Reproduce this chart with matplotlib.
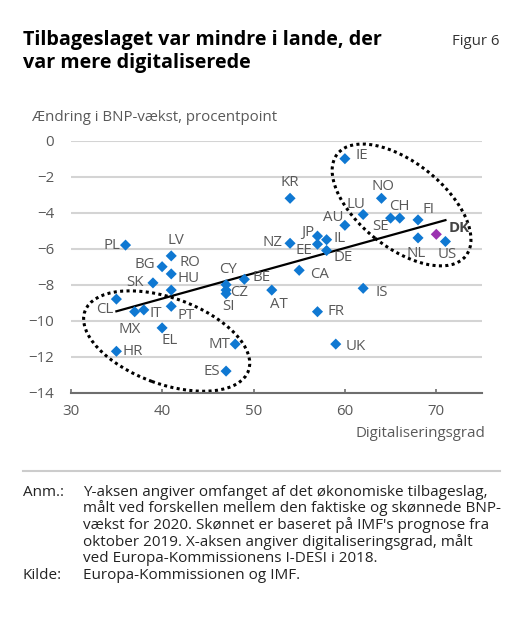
import numpy as np
import matplotlib
matplotlib.use("Agg")
import matplotlib.pyplot as plt
from matplotlib.patches import Ellipse
from matplotlib.transforms import Affine2D, ScaledTranslation

plt.rcParams['font.family'] = ['Open Sans', 'DejaVu Sans']

# Data: country, digitalisation degree (I-DESI 2018), change in GDP growth
countries = ["PL", "LV", "BG", "RO", "HU", "SK", "CY", "CZ", "SI", "BE", "AT",
             "CL", "MX", "IT", "PT", "EL", "HR", "MT", "ES",
             "KR", "NZ", "IE", "NO", "LU", "SE", "CH", "FI", "AU", "JP", "IL",
             "EE", "DE", "CA", "IS", "FR", "UK", "NL", "US", "DK"]
digital = [36, 41, 40, 41, 41, 39, 47, 47, 47, 49, 52,
           35, 37, 38, 41, 40, 35, 48, 47,
           54, 54, 60, 64, 62, 65, 66, 68, 60, 57, 58,
           57, 58, 55, 62, 57, 59, 68, 71, 70]
gdp_change = [-5.8, -6.4, -7.0, -7.4, -8.3, -7.9, -8.0, -8.3, -8.5, -7.7, -8.3,
              -8.8, -9.5, -9.4, -9.2, -10.4, -11.7, -11.3, -12.8,
              -3.2, -5.7, -1.0, -3.2, -4.1, -4.3, -4.3, -4.4, -4.7, -5.3, -5.5,
              -5.75, -6.1, -7.2, -8.2, -9.5, -11.3, -5.4, -5.6, -5.2]
highlight = "DK"

# label placement: offset in pixels (dx right, dy down) and alignment
label_pos = {
    "PL": (-5, 0, "right"), "LV": (5, -15, "center"), "BG": (-7, -2, "right"),
    "RO": (8, -11, "left"), "HU": (6, -12, "left"), "SK": (-9, 0, "right"),
    "CY": (2, -15, "center"), "CZ": (4, 2, "left"), "SI": (2, 13, "center"),
    "BE": (8, -2, "left"), "AT": (7, 14, "center"), "CL": (-3, 10, "right"),
    "MX": (-5, 18, "center"), "IT": (6, 4, "left"), "PT": (6, 9, "left"),
    "EL": (8, 13, "center"), "HR": (6, 0, "left"), "MT": (-5, 0, "right"),
    "ES": (-6, 0, "right"), "KR": (0, -16, "center"), "NZ": (-8, -1, "right"),
    "IE": (11, -3, "left"), "NO": (1, -12, "center"), "LU": (-7, -10, "center"),
    "SE": (-10, 8, "center"), "CH": (0, -12, "center"), "FI": (10, -10, "center"),
    "AU": (-12, -8, "center"), "JP": (-3, -4, "right"), "IL": (7, -1, "left"),
    "EE": (-5, 6, "right"), "DE": (7, 7, "left"), "CA": (11, 4, "left"),
    "IS": (12, 4, "left"), "FR": (10, 0, "left"), "UK": (10, 2, "left"),
    "NL": (-2, 16, "center"), "US": (2, 13, "center"), "DK": (12, -6, "left"),
}

note_lines = [
    ("Anm.:", "Y-aksen angiver omfanget af det økonomiske tilbageslag,"),
    ("", "målt ved forskellen mellem den faktiske og skønnede BNP-"),
    ("", "vækst for 2020. Skønnet er baseret på IMF's prognose fra"),
    ("", "oktober 2019. X-aksen angiver digitaliseringsgrad, målt"),
    ("", "ved Europa-Kommissionens I-DESI i 2018."),
    ("Kilde:", "Europa-Kommissionen og IMF."),
]

blue = "#0f78d2"
purple = "#9b32b0"
grey_text = "#595959"
fs = 10.8

W, H = 526, 626
fig = plt.figure(figsize=(W / 100, H / 100), dpi=100)
ax = fig.add_axes([70.7 / W, 1 - 392.7 / H, 411.3 / W, 252 / H])

x = np.array(digital)
y = np.array(gdp_change)
colors = [purple if c == highlight else blue for c in countries]
ax.scatter(x, y, marker="D", s=32, c=colors, linewidths=0, zorder=4)

# fitted trend line
slope, icpt = np.polyfit(x, y, 1)
xs = np.array([x.min(), x.max()])
ax.plot(xs, slope * xs + icpt, color="black", lw=1.6, zorder=3)

for c, xi, yi in zip(countries, x, y):
    dx, dy, ha = label_pos[c]
    bold = c == highlight
    ax.annotate(c, (xi, yi), xytext=(dx, -dy), textcoords="offset pixels",
                ha=ha, va="center", fontsize=fs,
                color="#444444" if bold else grey_text,
                fontweight="bold" if bold else "normal", zorder=5)

# dotted ellipses, centre in data units, size in pixels
for cx, cy, w, h, ang in [(66.2, -3.57, 164, 85, -38.5), (40.5, -11.13, 174, 86, -20)]:
    tr = Affine2D() + ScaledTranslation(cx, cy, ax.transData)
    ax.add_patch(Ellipse((0, 0), w, h, angle=ang, transform=tr, fill=False,
                         ec="black", lw=2.2, ls=(0, (1, 1.1)), zorder=2))

ax.set_xlim(30, 75)
ax.set_ylim(-14, 0)
ax.set_xticks([30, 40, 50, 60, 70])
ax.set_yticks(np.arange(-14, 1, 2))
ax.grid(axis="y", color="#d4d4d4", lw=1.5, zorder=0)
ax.set_axisbelow(True)
for s in ["top", "right", "left"]:
    ax.spines[s].set_visible(False)
ax.spines["bottom"].set_color("#6e6e6e")
ax.spines["bottom"].set_linewidth(1.5)
ax.tick_params(axis="x", direction="in", length=3, width=1.2, color="#6e6e6e",
               labelsize=fs, labelcolor=grey_text, pad=8)
ax.tick_params(axis="y", length=0, labelsize=fs, labelcolor=grey_text, pad=12)

fig.text(485 / W, 1 - 436.7 / H, "Digitaliseringsgrad", ha="right", va="baseline",
         fontsize=fs, color=grey_text)
fig.text(32 / W, 1 - 120.7 / H, "Ændring i BNP-vækst, procentpoint", ha="left",
         va="baseline", fontsize=fs, color=grey_text)

fig.text(23 / W, 1 - 45 / H, "Tilbageslaget var mindre i lande, der", ha="left",
         va="baseline", fontsize=14.2, fontweight="bold", color="black")
fig.text(23 / W, 1 - 68 / H, "var mere digitaliserede", ha="left",
         va="baseline", fontsize=14.2, fontweight="bold", color="black")
fig.text(500 / W, 1 - 45 / H, "Figur 6", ha="right", va="baseline",
         fontsize=fs, color="#333333")

fig.add_artist(plt.Line2D([23 / W, 500 / W], [1 - 471 / H, 1 - 471 / H],
                          color="#cccccc", lw=1.5))
for i, (head, body) in enumerate(note_lines):
    yb = 1 - (495.7 + i * 16.67) / H
    if head:
        fig.text(23 / W, yb, head, ha="left", va="baseline", fontsize=11, color="#222222")
    fig.text(83 / W, yb, body, ha="left", va="baseline", fontsize=11, color="#222222")

fig.savefig("out.png", dpi=100)
